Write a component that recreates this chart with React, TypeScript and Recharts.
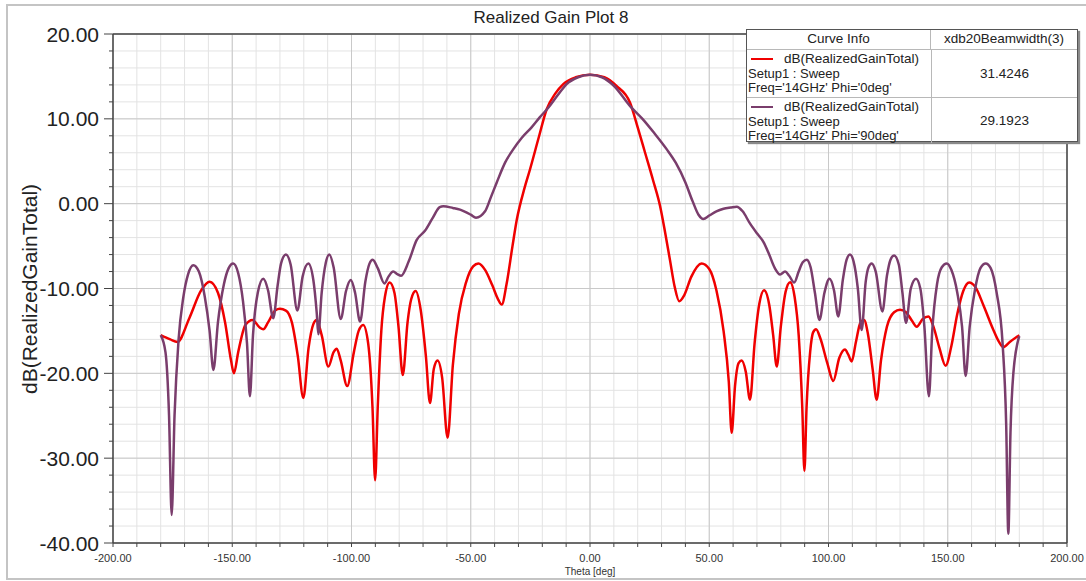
import { LineChart, Line, XAxis, YAxis, CartesianGrid, ReferenceLine, Legend } from 'recharts';

const FONT = '"Liberation Sans", Arial, sans-serif';

// Phi = 0deg cut (red)
const thetaPhi0 = [
  -180, -176, -173, -168, -163, -159.5, -156, -153, -150.5, -149.3, -147.5, -144.5, -141.5, -138.5, -137, -135,
  -132, -130, -127.5, -125, -122.5, -120.2, -118, -116, -114.6, -112.5, -109.7, -107.5, -106.2, -104.5, -101.8,
  -99, -97, -95.1, -93, -91.2, -90.1, -89, -87.5, -86, -84, -82, -80.3, -78.5, -76.5, -75, -73.1, -71, -68.8,
  -67.1, -65.5, -63.9, -62, -59.7, -57.5, -55, -52, -49, -46.8, -44, -41, -38.5, -37, -35, -32.5, -30.7, -27.5,
  -25.2, -21.5, -18.2, -14.5, -11.2, -6, 0, 6, 11, 16.8, 20, 23.1, 26.5, 29.4, 31.5, 33.5, 35.5, 37.4, 39.5,
  42.5, 46.8, 50, 53, 56, 58.2, 59.4, 60.8, 62.3, 63.6, 65.3, 67.1, 69, 71, 73, 75.2, 76.8, 78.3, 80, 82, 83.9,
  85.8, 87.5, 89, 89.9, 90.8, 92.3, 93.5, 94.8, 96.5, 99.5, 102, 104.5, 106.9, 108.3, 109.7, 111.5, 113.4,
  114.9, 116.5, 118.5, 120.2, 122, 124.5, 127.5, 130, 132.5, 135, 137, 139.5, 141.9, 144, 146.5, 149.1, 151.5,
  154, 156.5, 159, 161.5, 165, 169, 171.5, 173.3, 176, 180,
];
const gainPhi0 = [
  -15.5, -16.0, -16.3, -13.5, -10.2, -9.2, -10.5, -14, -18.5, -20.0, -17.5, -14.3, -13.7, -14.6, -14.8, -14.0,
  -12.6, -12.4, -12.6, -14.0, -18, -22.9, -17, -14.2, -13.7, -15.5, -19.2, -17.5, -17.1, -18.5, -21.5,
  -17.5, -15, -14.3, -16.5, -24, -32.6, -24, -15, -11, -9.3, -10.5, -14.5, -20.2, -14, -11.3, -10.3, -12.5, -18,
  -23.5, -19.5, -18.5, -20.5, -27.6, -19, -13, -9.3, -7.4, -7.05, -7.8, -9.6, -11.3, -11.9, -9.5, -5, -1.9, 1.8,
  4.0, 7.8, 11.1, 13.0, 14.1, 14.9, 15.2, 14.9, 13.9, 11.9, 9, 6.0, 2.7, -0.3, -3.4, -6.6, -9.8, -11.5, -10.8,
  -8.6, -7.05, -7.7, -10.2, -15, -21, -27.0, -21.5, -18.8, -18.5, -19.8, -23.1, -16.5, -11.8, -10.2, -12, -15.5, -19.2, -14.5, -10.4, -9.25,
  -11, -15.5, -24, -31.5, -24, -17.5, -15.2, -14.8, -15.8, -18.8, -20.9, -18.2, -17.2, -17.8, -18.6, -16.3, -14,
  -13.7, -15.3, -19.5, -23.1, -18.5, -14.5, -12.8, -12.5, -12.8, -13.8, -14.5, -13.6, -13.3, -14.5, -17, -19.1, -16.8,
  -13, -10.3, -9.3, -9.8, -12, -14.8, -16.3, -16.9, -16.3, -15.5,
];

// Phi = 90deg cut (purple)
const thetaPhi90 = [
  -180, -178, -176.5, -175.4, -174.2, -172.5, -170.5, -168.5, -166.3, -164, -161.5, -159.5, -157.9, -156, -153.5,
  -151.5, -149.6, -147.5, -145.5, -143.8, -142.6, -141.3, -139.3, -137, -135, -132.8, -131, -129.5, -127.5, -125.5,
  -122.7, -120.5, -118.1, -116, -114.6, -113.9, -112.5, -110.8, -109.3, -107.5, -104.5, -102.3, -100.3, -98.5,
  -96.4, -94.2, -92.5, -91.1, -89, -86.2, -84.5, -82.5, -80.8, -79.2, -76, -72.7, -69.2, -66, -63, -61.5, -57.5,
  -54.5, -50, -47.8, -44, -41.5, -39.1, -35.5, -32.2, -28.5, -24.5, -21, -17.5, -13.5, -9.8, -5, 0, 5, 10, 16.8,
  22, 27, 32.2, 36, 40, 43, 45.5, 47.5, 50, 53, 56, 59, 61.5, 64, 67, 70, 72.7, 75, 77.5, 79.7, 81.8, 83.5, 85.6,
  87.5, 89.2, 90.9, 92.5, 94.3, 96.2, 98.3, 100.4, 102.3, 104.1, 106, 107.6, 109, 110.5, 112.3, 113.9, 115.6,
  116.8, 118.1, 119.8, 122.6, 124.5, 126, 127.5, 129.5, 131, 132.5, 134.5, 136.7, 138.5, 140.2, 142.1, 143.5,
  145.5, 147.5, 149.6, 151.5, 154, 156, 157.5, 159.2, 161.5, 163.7, 165.9, 168, 170.5, 173, 174.5, 175.4, 176.3,
  177.5, 180,
];
const gainPhi90 = [
  -15.5, -17.5, -25, -36.7, -25, -16, -11, -8.3, -7.25, -8.0, -11, -15, -19.6, -14, -9.5,
  -7.6, -7.05, -8.2, -11.5, -16.5, -22.7, -15.5, -10.5, -8.86, -10.2, -13.5, -9.7, -7.0, -6.0, -7.2,
  -12.6, -8.6, -7.05, -9.0, -12.8, -15.4, -10.5, -7.0, -6.0, -7.5, -13.6, -10.3, -9.0, -10.5,
  -13.9, -9.2, -7.1, -6.6, -7.6, -9.4, -8.6, -8.0, -8.3, -8.5, -6.8, -4.3, -3.2, -1.7, -0.4, -0.3, -0.5,
  -0.7, -1.3, -1.65, -0.9, 0.8, 2.5, 4.9, 6.4, 7.8, 9.0, 10.2, 11.3, 12.8, 14.1, 14.9, 15.2, 14.9, 13.9, 11.5,
  10.0, 8.3, 6.4, 4.8, 2.5, 0.3, -1.3, -1.8, -1.4, -0.9, -0.6, -0.45, -0.35, -0.9, -2.3, -3.5, -4.5, -5.9, -7.6, -8.35, -8.0, -8.5, -9.3,
  -8.0, -6.9, -6.6, -7.5, -10.5, -13.7, -10.5, -8.86, -10.2, -13.3, -9.0, -6.6, -6.0, -6.8, -10.0, -14.9, -9.2,
  -7.5, -7.05, -8.0, -12.7, -8.5, -6.6, -6.1, -7.2, -10.5, -14.05, -10.0, -8.86, -10, -14.5, -22.7, -15,
  -9.5, -7.5, -7.05, -7.8, -10.5, -14.5, -20.3, -14.5, -10, -7.6, -7.05, -7.6, -10.5, -16.5, -26, -38.9, -27,
  -20, -15.6,
];

const curveNames = ['dB(RealizedGainTotal)', 'dB(RealizedGainTotal)'];
const curveSetups = ['Setup1 : Sweep', 'Setup1 : Sweep'];
const curveFreqs = ["Freq='14GHz' Phi='0deg'", "Freq='14GHz' Phi='90deg'"];
const beamwidths = ['31.4246', '29.1923'];

const xMajor = [-200, -150, -100, -50, 0, 50, 100, 150, 200];
const yMajor = [20, 10, 0, -10, -20, -30, -40];
const xMinor = Array.from({ length: 41 }, (_, i) => -200 + i * 10);
const yMinor = Array.from({ length: 31 }, (_, i) => -40 + i * 2);

const phi0 = thetaPhi0.map((t, i) => ({ t, g: gainPhi0[i] }));
const phi90 = thetaPhi90.map((t, i) => ({ t, g: gainPhi90[i] }));

function XTick({ x, y, payload }: any) {
  const major = xMajor.includes(payload.value);
  return (
    <g>
      <line x1={x} x2={x} y1={y} y2={y + 4} stroke="#444" />
      {major && (
        <text x={x} y={y + 15} textAnchor="middle" dominantBaseline="central" fontSize={11} fill="#333" fontFamily={FONT}>
          {payload.value.toFixed(2)}
        </text>
      )}
    </g>
  );
}

function YTick({ x, y, payload }: any) {
  const major = yMajor.includes(payload.value);
  return (
    <g>
      <line x1={x - (major ? 9 : 4)} x2={x} y1={y} y2={y} stroke="#444" />
      {major && (
        <text x={x - 14} y={y} textAnchor="end" dominantBaseline="central" fontSize={21} fill="#222" fontFamily={FONT}>
          {payload.value.toFixed(2)}
        </text>
      )}
    </g>
  );
}

function CurveTable({ payload }: any) {
  const cell = '1px solid #b8b8b8';
  return (
    <div
      style={{
        width: 332,
        height: 113,
        boxSizing: 'border-box',
        border: '1px solid #555',
        background: '#fff',
        boxShadow: '2px 2px 1px #8a8a8a',
        fontFamily: FONT,
        fontSize: 13,
        color: '#222',
      }}
    >
      <div style={{ display: 'flex', height: 19, borderBottom: cell, lineHeight: '18px', fontSize: 13.5 }}>
        <div style={{ width: 183, textAlign: 'center', borderRight: cell }}>Curve Info</div>
        <div style={{ flex: 1, textAlign: 'center' }}>xdb20Beamwidth(3)</div>
      </div>
      {(payload || []).map((p: any, i: number) => (
        <div key={i} style={{ display: 'flex', height: i === 0 ? 47 : 45, borderBottom: i === 0 ? cell : 'none' }}>
          <div style={{ width: 183, borderRight: cell, paddingTop: 2, paddingLeft: 1, lineHeight: '14.5px', whiteSpace: 'nowrap' }}>
            <div style={{ display: 'flex', alignItems: 'center', fontSize: 13.5 }}>
              <span style={{ display: 'inline-block', width: 22, height: 2, background: p.color, marginLeft: 3, marginRight: 11 }} />
              {curveNames[i]}
            </div>
            <div>{curveSetups[i]}</div>
            <div>{curveFreqs[i]}</div>
          </div>
          <div style={{ flex: 1, display: 'flex', alignItems: 'center', justifyContent: 'center', fontSize: 13.5 }}>
            {beamwidths[i]}
          </div>
        </div>
      ))}
    </div>
  );
}

export default function App() {
  return (
    <div style={{ position: 'absolute', left: 0, top: 0, width: 1086, height: 581, background: '#fff', fontFamily: FONT }}>
      <LineChart width={1086} height={581} margin={{ top: 34, right: 19, bottom: 4, left: 0 }}>
        <rect x={7} y={5} width={1090} height={574} fill="none" stroke="#c4c4c4" strokeWidth={2} />
        <text x={551} y={17} textAnchor="middle" dominantBaseline="central" fontSize={17} fill="#222" fontFamily={FONT}>
          Realized Gain Plot 8
        </text>
        <text
          x={29}
          y={289}
          transform="rotate(-90 29 289)"
          textAnchor="middle"
          dominantBaseline="central"
          fontSize={21}
          fill="#222"
          fontFamily={FONT}
        >
          dB(RealizedGainTotal)
        </text>
        <CartesianGrid stroke="#e3e3e3" verticalValues={xMinor} horizontalValues={yMinor} />
        <CartesianGrid stroke="#c9c9c9" verticalValues={xMajor} horizontalValues={yMajor} />
        <XAxis
          type="number"
          dataKey="t"
          domain={[-200, 200]}
          ticks={xMinor}
          interval={0}
          allowDataOverflow
          height={34}
          tickSize={0}
          tickMargin={0}
          tick={<XTick />}
          stroke="#444"
          strokeWidth={1.5}
          label={{ value: 'Theta [deg]', position: 'insideBottom', offset: 2, fontSize: 10, fill: '#333', fontFamily: FONT }}
        />
        <YAxis
          type="number"
          dataKey="g"
          domain={[-40, 20]}
          ticks={yMinor}
          interval={0}
          allowDataOverflow
          width={113}
          tickSize={0}
          tickMargin={0}
          tick={<YTick />}
          stroke="#444"
          strokeWidth={1.5}
        />
        <ReferenceLine y={20} stroke="#444" strokeWidth={1.5} />
        <ReferenceLine x={200} stroke="#444" strokeWidth={1.5} />
        <Legend
          layout="vertical"
          align="center"
          verticalAlign="middle"
          content={<CurveTable />}
          wrapperStyle={{ left: 746, top: 29, width: 332, height: 113 }}
        />
        <Line
          data={phi0}
          dataKey="g"
          name={curveNames[0]}
          type="monotone"
          stroke="#f00000"
          strokeWidth={2.5}
          dot={false}
          activeDot={false}
          isAnimationActive={false}
        />
        <Line
          data={phi90}
          dataKey="g"
          name={curveNames[1]}
          type="monotone"
          stroke="#7a3d6c"
          strokeWidth={2.5}
          dot={false}
          activeDot={false}
          isAnimationActive={false}
        />
      </LineChart>
    </div>
  );
}
